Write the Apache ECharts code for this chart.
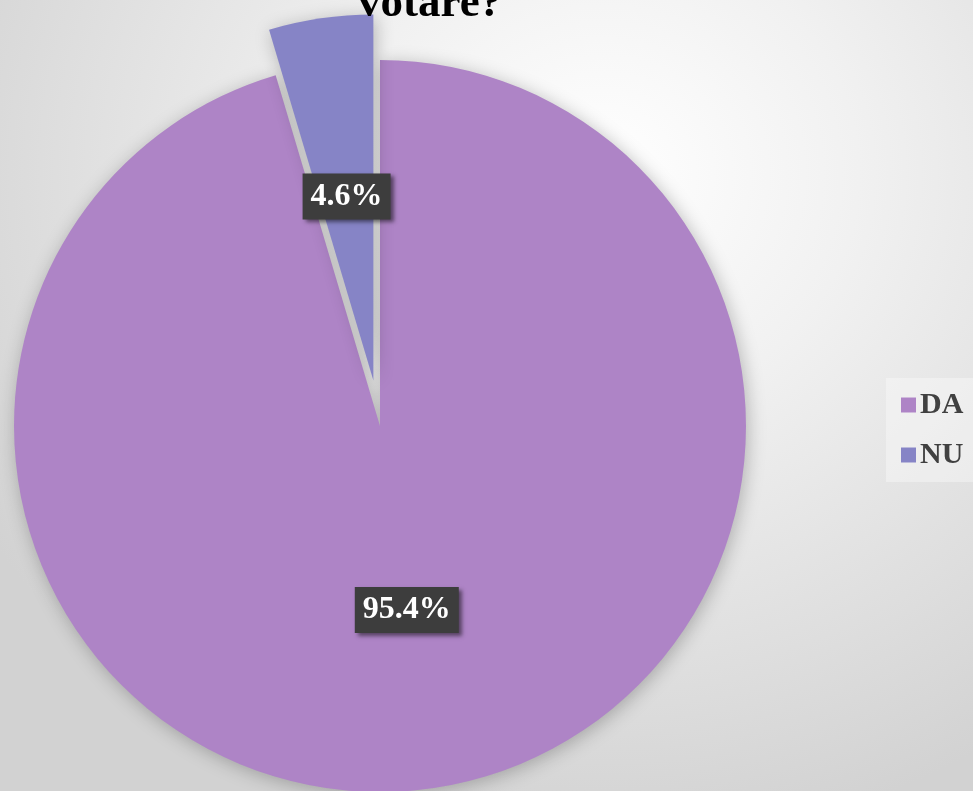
<!DOCTYPE html>
<html>
<head>
<meta charset="utf-8">
<script src="https://cdn.jsdelivr.net/npm/echarts@6/dist/echarts.min.js"></script>
<style>
html,body{margin:0;padding:0;}
#c{width:973px;height:791px;background:radial-gradient(ellipse 75% 85% at 62% 22%, #ffffff 0%, #f1f1f1 35%, #dedede 75%, #d2d2d2 100%);}
</style>
</head>
<body>
<div id="c"></div>
<script>
const titleText = 'votare?';
const categories = ['DA', 'NU'];
const values = [95.4, 4.6];
const colors = ['#AE84C6', '#8684C6'];

const chart = echarts.init(document.getElementById('c'));
chart.setOption({
  backgroundColor: 'transparent',
  animation: false,
  title: {
    text: titleText,
    left: 353,
    top: -23,
    textStyle: {fontFamily: 'Liberation Serif', fontWeight: 'bold', fontSize: 45, color: '#000'}
  },
  legend: {
    orient: 'vertical',
    left: 886,
    top: 378,
    padding: [12, 20, 12, 15],
    backgroundColor: 'rgba(255,255,255,0.35)',
    itemWidth: 15,
    itemHeight: 15,
    itemGap: 20,
    icon: 'rect',
    data: categories,
    textStyle: {fontFamily: 'Liberation Serif', fontWeight: 'bold', fontSize: 30, color: '#404040', padding: [0,0,0,-1]}
  },
  series: [{
    type: 'pie',
    center: [380, 426],
    radius: [0, 366],
    startAngle: 90,
    clockwise: true,
    selectedMode: 'single',
    selectedOffset: 46,
    data: categories.map((c, i) => ({
      name: c,
      value: values[i],
      selected: c === 'NU',
      itemStyle: {color: colors[i]}
    })),
    itemStyle: {
      borderWidth: 0,
      shadowBlur: 18,
      shadowColor: 'rgba(0,0,0,0.25)',
      shadowOffsetX: 2,
      shadowOffsetY: 3
    },
    label: {
      show: true,
      position: 'inside',
      formatter: p => p.value.toFixed(1) + '%',
      fontFamily: 'Liberation Serif',
      fontWeight: 'bold',
      fontSize: 32,
      color: '#ffffff',
      backgroundColor: '#3d3d3d',
      padding: [8, 8, 6, 8],
      shadowBlur: 4,
      shadowColor: 'rgba(0,0,0,0.5)',
      shadowOffsetX: 3,
      shadowOffsetY: 3
    },
    labelLine: {show: false},
    emphasis: {disabled: true}
  }]
});
</script>
</body>
</html>
